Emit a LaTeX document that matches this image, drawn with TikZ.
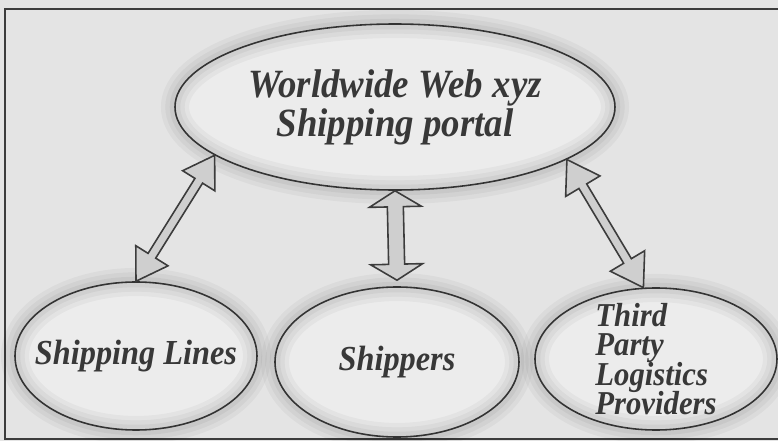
\documentclass[tikz,border=0pt]{standalone}
\usepackage{fontspec}
\setmainfont{Liberation Serif}
\newfontfamily\boxfont{Liberation Serif}[FakeStretch=0.92]
\usetikzlibrary{shapes.geometric,calc}
\definecolor{paper}{HTML}{E4E4E4}
\definecolor{inside}{HTML}{ECECEC}
\definecolor{ink}{HTML}{383838}
\definecolor{edge}{HTML}{3C3C3C}
\definecolor{arrowfill}{HTML}{CFCFCF}
\setlength{\lineskiplimit}{-5pt}

\tikzset{
  bubble/.style={ellipse, draw=edge, line width=0.45pt, fill=inside,
    inner xsep=-0.5cm, inner ysep=-0.15cm, text=ink, align=center,
    postaction={draw=black, opacity=0.035, line width=8pt},
    postaction={draw=black, opacity=0.04, line width=5.5pt},
    postaction={draw=black, opacity=0.045, line width=3pt}},
  bigtext/.style={font=\boxfont\bfseries\itshape\fontsize{11.4}{11.1}\selectfont},
  midtext/.style={font=\boxfont\bfseries\itshape\fontsize{10}{10}\selectfont},
  smalltext/.style={font=\boxfont\bfseries\itshape\fontsize{9.5}{8.4}\selectfont},
  arrowbody/.style={draw=edge, fill=arrowfill, line width=0.45pt, line join=miter},
  frame/.style={draw=edge, line width=0.6pt}
}

% hollow two-headed block arrow: from, to, shaft half width, head half width, head length
\newcommand\twoway[5]{%
  \coordinate (ha) at ($(#1)!#5!(#2)$);
  \coordinate (hb) at ($(#2)!#5!(#1)$);
  \draw[arrowbody] (#1) -- ($(ha)!#4!90:(#2)$) -- ($(ha)!#3!90:(#2)$)
    -- ($(hb)!#3!-90:(#1)$) -- ($(hb)!#4!-90:(#1)$) -- (#2)
    -- ($(hb)!#4!90:(#1)$) -- ($(hb)!#3!90:(#1)$)
    -- ($(ha)!#3!-90:(#2)$) -- ($(ha)!#4!-90:(#2)$) -- cycle;}

\begin{document}
\begin{tikzpicture}
  \useasboundingbox (0,0) rectangle (7.78,4.41);
  \fill[paper] (0,0) rectangle (7.78,4.41);
  \draw[frame] (7.85,0.02) -- (0.05,0.02) -- (0.05,4.32) -- (7.85,4.32);

  % portal on top, the three parties below
  \node[bubble, bigtext, minimum width=4.4cm, minimum height=1.66cm] (portal) at (3.95,3.34)
    {Worldwide Web xyz\\Shipping portal};
  \node[bubble, midtext, minimum width=2.42cm, minimum height=1.48cm] (lines) at (1.36,0.85)
    {Shipping Lines};
  \node[bubble, midtext, minimum width=2.44cm, minimum height=1.5cm] (shippers) at (3.97,0.79)
    {Shippers};
  \node[bubble, smalltext, align=left, minimum width=2.42cm, minimum height=1.42cm] (third) at (6.56,0.82)
    {Third\\Party\\Logistics\\Providers};

  % two-way links
  \coordinate (midend) at ($(shippers.north)+(0,0.06)$);
  \twoway{portal.195}{lines.north}{0.045cm}{0.19cm}{0.3cm}
  \twoway{portal.south}{midend}{0.08cm}{0.26cm}{0.16cm}
  \twoway{portal.343}{third.100}{0.045cm}{0.2cm}{0.31cm}
\end{tikzpicture}
\end{document}
